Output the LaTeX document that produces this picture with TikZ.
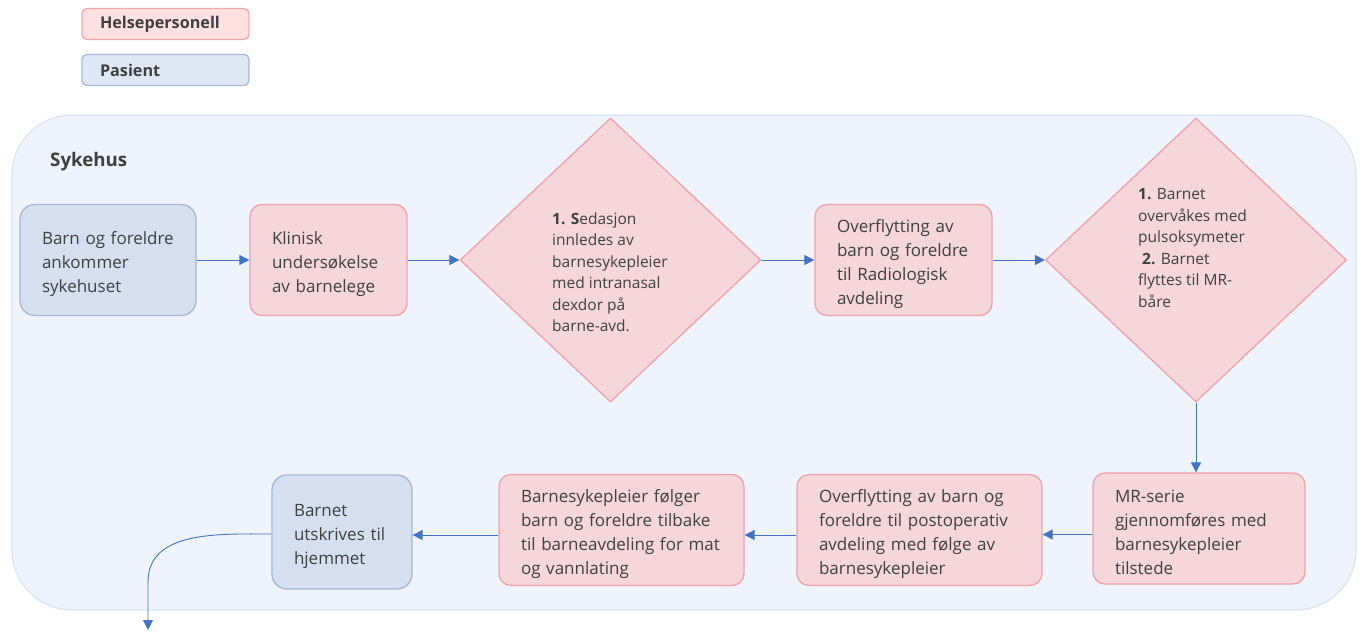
\documentclass[tikz,border=0pt]{standalone}
\usepackage{fontspec}
\setmainfont{Open Sans}
\usetikzlibrary{shapes.geometric,arrows.meta}
\definecolor{txt}{HTML}{404040}
\definecolor{pinkfill}{HTML}{F4D6DB}
\definecolor{pinkline}{HTML}{EFA2A9}
\definecolor{bluefill}{HTML}{D5DFF0}
\definecolor{blueline}{HTML}{A5B7D8}
\definecolor{lgpinkfill}{HTML}{FFE1E1}
\definecolor{lgpinkline}{HTML}{F9A8A8}
\definecolor{lgbluefill}{HTML}{DFE6F4}
\definecolor{lgblueline}{HTML}{AABAD6}
\definecolor{contfill}{HTML}{EFF3FB}
\definecolor{contline}{HTML}{DCE4F4}
\definecolor{arrowc}{HTML}{4472C4}
\begin{document}
\begin{tikzpicture}[x=1pt,y=-1pt,
  boxbase/.style={rectangle, rounded corners=12pt, line width=1.3pt, text=txt,
    font=\fontsize{17}{24}\selectfont, align=left, inner sep=0pt, minimum height=111pt,
    execute at begin node={\rule{0pt}{21pt}}},
  pinkbox/.style={boxbase, draw=pinkline, fill=pinkfill},
  bluebox/.style={boxbase, draw=blueline, fill=bluefill, rounded corners=15pt},
  dia/.style={diamond, draw=pinkline, fill=pinkfill, line width=1.3pt, inner sep=0pt,
    minimum width=301pt, minimum height=284pt},
  diatext/.style={anchor=north west, inner sep=0pt, align=left, text=txt,
    font=\fontsize{15.5}{21.5}\selectfont},
  legend/.style={rectangle, rounded corners=5pt, line width=1.3pt, text=txt, inner sep=0pt,
    minimum width=167pt, minimum height=31pt, text width=131pt, align=left,
    font=\fontsize{16.2}{18}\selectfont\bfseries},
  arr/.style={draw=arrowc, line width=0.9pt, -{Triangle[length=10pt,width=10pt]}}
]
\useasboundingbox (0,0) rectangle (1361,632);

% legend
\node[legend, draw=lgpinkline, fill=lgpinkfill] (lgh) at (165.5,24) {Helsepersonell};
\node[legend, draw=lgblueline, fill=lgbluefill] (lgp) at (165.5,70) {Pasient};

% container
\node[rectangle, rounded corners=60pt, draw=contline, fill=contfill, line width=1.3pt,
  minimum width=1344pt, minimum height=495pt, inner sep=0pt] (hosp) at (684,362.5) {};
\node[anchor=west, inner sep=0pt, text=txt, font=\fontsize{18.7}{22}\selectfont\bfseries]
  (syk) at (50,162) {Sykehus};

% top row
\node[bluebox, minimum width=176pt, text width=132pt] (b1) at (108,260)
  {Barn~og~foreldre\\ankommer\\sykehuset};
\node[pinkbox, minimum width=157pt, text width=113pt] (b2) at (328.5,260)
  {Klinisk\\undersøkelse\\av~barnelege};
\node[dia] (d1) at (610.5,260) {};
\node[diatext] (d1t) at (552,212.5)
  {\textbf{1. S}edasjon\\innledes~av\\barnesykepleier\\med~intranasal\\dexdor~på\\barne-avd.};
\node[pinkbox, minimum width=177pt, text width=133pt] (b3) at (903.5,260)
  {Overflytting~av\\barn~og~foreldre\\til~Radiologisk\\avdeling};
\node[dia] (d2) at (1196,260) {};
\node[diatext] (d2t) at (1138,188.5)
  {\textbf{1.} Barnet\\overvåkes~med\\pulsoksymeter\\\hspace*{4pt}\textbf{2.} Barnet\\flyttes~til~MR-\\båre};

% bottom row
\node[pinkbox, minimum width=212pt, text width=168pt] (mr) at (1199,528.5)
  {MR-serie\\gjennomføres~med\\barnesykepleier\\tilstede};
\node[pinkbox, minimum width=245pt, text width=201pt] (pop) at (919.5,530)
  {Overflytting~av~barn~og\\foreldre~til~postoperativ\\avdeling~med~følge~av\\barnesykepleier};
\node[pinkbox, minimum width=245pt, text width=201pt] (bsk) at (621.5,530)
  {Barnesykepleier~følger\\barn~og~foreldre~tilbake\\til~barneavdeling~for~mat\\og~vannlating};
\node[bluebox, minimum width=140pt, minimum height=114pt, text width=96pt] (hj) at (342,532)
  {Barnet\\utskrives~til\\hjemmet};
\coordinate (out) at (148,630);

% connectors
\draw[arr] (b1) -- (b2);
\draw[arr] (b2) -- (d1);
\draw[arr] (d1) -- (b3);
\draw[arr] (b3) -- (d2);
\draw[arr] (d2.south) -- (d2.south |- mr.north);
\draw[arr] ([yshift=-6pt]mr.west) -- ([yshift=-6pt]mr.west -| pop.east);
\draw[arr] ([yshift=-5pt]pop.west) -- ([yshift=-5pt]pop.west -| bsk.east);
\draw[arr] ([yshift=-5pt]bsk.west) -- ([yshift=-5pt]bsk.west -| hj.east);
\draw[arr] ([yshift=-2pt]hj.west) to[out=180,in=90] (148,582) -- (out);
\end{tikzpicture}
\end{document}
